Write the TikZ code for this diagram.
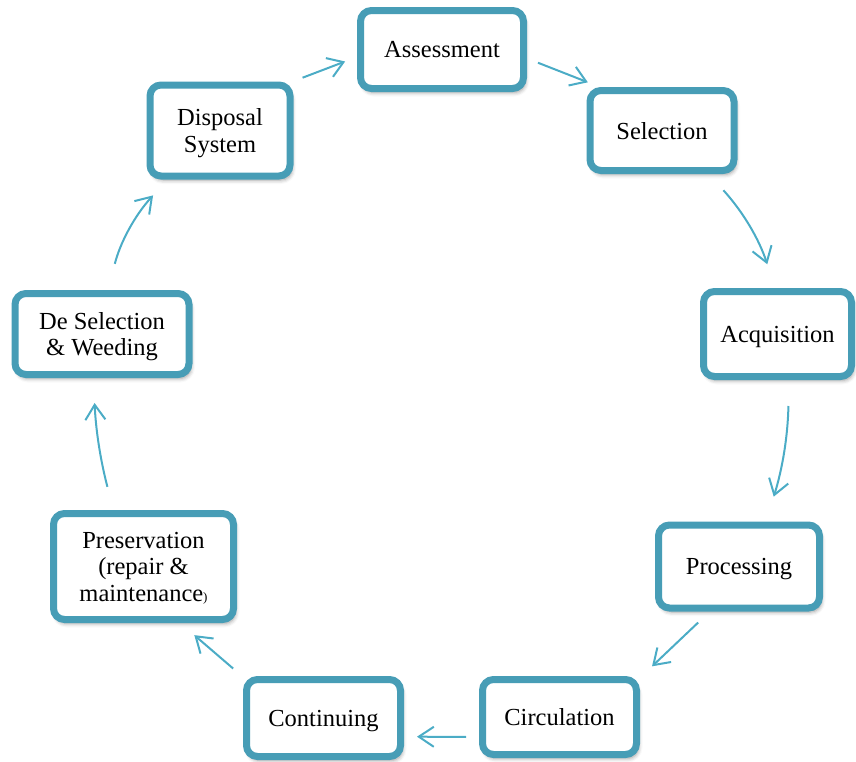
\documentclass[tikz,border=0pt]{standalone}
\usepackage{fontspec}
\setmainfont{Liberation Serif}
\usepackage{xcolor}
\usetikzlibrary{positioning, arrows.meta, shadows.blur}

\definecolor{boxblue}{RGB}{71,157,182}
\definecolor{arrowblue}{RGB}{75,172,198}

\begin{document}
\begin{tikzpicture}[x=1pt, y=-1pt,
    stage/.style={draw=boxblue, line width=7pt, rounded corners=11pt, fill=white,
      align=center, inner sep=0pt, text depth=0pt, font=\fontsize{24.5}{26.5}\selectfont,
      blur shadow={shadow xshift=2pt, shadow yshift=-4pt, shadow blur radius=4pt, shadow opacity=40}},
    flow/.style={draw=arrowblue, line width=2pt, -{Straight Barb[length=15pt, width=20pt]}}]
        \useasboundingbox (0,0) rectangle (856,761);

        % Collection development cycle
        \node[stage, minimum width=163pt, minimum height=78pt] (assess) at (442,49.5) {Assessment};
        \node[stage, minimum width=144pt, minimum height=80pt] (select) at (662,130.5) {Selection};
        \node[stage, minimum width=148pt, minimum height=85pt] (acqui) at (777.5,334) {Acquisition};
        \node[stage, minimum width=161pt, minimum height=83pt] (proc) at (739,566.5) {Processing};
        \node[stage, minimum width=154pt, minimum height=75pt] (circ) at (559.5,717) {Circulation};
        \node[stage, minimum width=154pt, minimum height=77pt] (cont) at (323.5,718) {Continuing};
        \node[stage, minimum width=180pt, minimum height=106pt] (pres) at (143.5,566.5) {Preservation\\(repair \&\\maintenance{\fontsize{13}{13}\selectfont)}};
        \node[stage, minimum width=174pt, minimum height=81pt] (desel) at (102,334) {De Selection\\\& Weeding};
        \node[stage, minimum width=140pt, minimum height=91pt] (dispo) at (220,130.5) {Disposal\\System};

        % Arrows round the cycle
        \draw[flow, shorten <=10.6pt, shorten >=12.7pt] (dispo.34) -- (assess.185);
        \draw[flow, shorten <=11.8pt, shorten >=12.9pt] (assess.-6) -- (select.145);
        \draw[flow, shorten <=22pt, shorten >=25pt] (select.-43) to[bend left=12] (acqui.93);
        \draw[flow, shorten <=26pt, shorten >=26pt] (acqui.-76) to[bend left=8] (proc.59);
        \draw[flow, shorten <=16pt, shorten >=16.6pt] (proc.-123) -- (circ.26);
        \draw[flow, shorten <=13pt, shorten >=13pt] (circ.194) -- (cont.-13);
        \draw[flow, shorten <=13pt, shorten >=18.6pt] (cont.153) -- (pres.-57);
        \draw[flow, shorten <=24pt, shorten >=25pt] (pres.118) to[bend left=6] (desel.-101);
        \draw[flow, shorten <=27pt, shorten >=21.4pt] (desel.82) to[bend left=14] (dispo.-137);
      \end{tikzpicture}
\end{document}
